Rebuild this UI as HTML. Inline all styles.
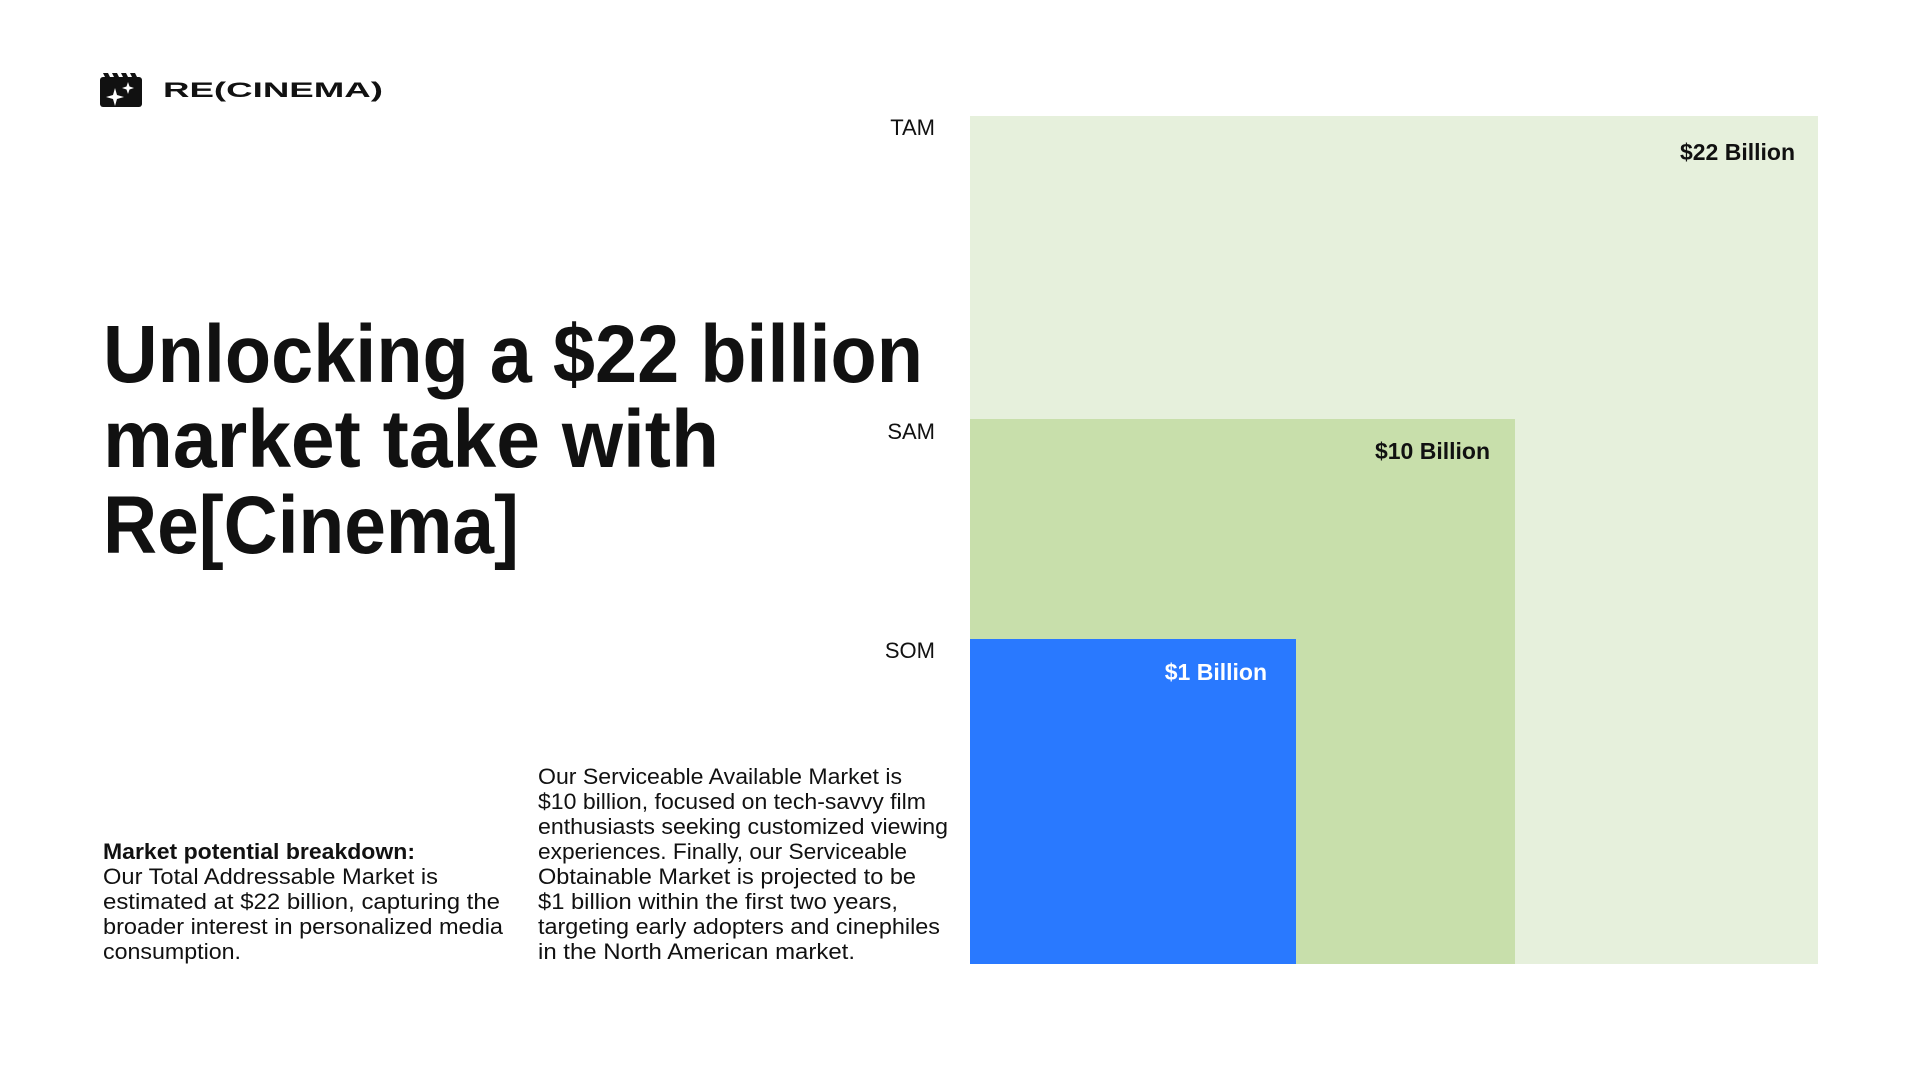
<!DOCTYPE html>
<html><head><meta charset="utf-8"><style>
html,body{margin:0;padding:0;background:#fff;}
svg{display:block;}
text{font-family:"Liberation Sans",sans-serif;fill:#111;}
</style></head><body>
<svg width="1920" height="1080" viewBox="0 0 1920 1080" xmlns="http://www.w3.org/2000/svg">
<rect width="1920" height="1080" fill="#fff"/>
<!-- logo -->
<rect x="100" y="77" width="42" height="30" rx="3" fill="#111"/>
<polygon points="103,73 108,73 111,79 106,79" fill="#111"/>
<polygon points="112,73 117,73 120,79 115,79" fill="#111"/>
<polygon points="121,73 126,73 129,79 124,79" fill="#111"/>
<polygon points="130,73 135,73 138,79 133,79" fill="#111"/>
<path d="M115,88 L117,95 L124,97 L117,99 L115,106 L113,99 L106,97 L113,95 Z" fill="#fff"/>
<path d="M128,82 L129.5,86.5 L134,88 L129.5,89.5 L128,94 L126.5,89.5 L122,88 L126.5,86.5 Z" fill="#fff"/>
<text x="163" y="97" font-size="21" font-weight="900" textLength="220" lengthAdjust="spacingAndGlyphs">RE(CINEMA)</text>
<!-- title -->
<text x="103" y="382" font-size="82" font-weight="700" textLength="820" lengthAdjust="spacingAndGlyphs">Unlocking a $22 billion</text>
<text x="103" y="467" font-size="82" font-weight="700" textLength="616" lengthAdjust="spacingAndGlyphs">market take with</text>
<text x="103" y="553" font-size="82" font-weight="700" textLength="416" lengthAdjust="spacingAndGlyphs">Re[Cinema]</text>
<!-- left text -->
<g font-size="22">
<text x="103" y="859" font-weight="700" textLength="312" lengthAdjust="spacingAndGlyphs">Market potential breakdown:</text>
<text x="103" y="884" textLength="335" lengthAdjust="spacingAndGlyphs">Our Total Addressable Market is</text>
<text x="103" y="909" textLength="397" lengthAdjust="spacingAndGlyphs">estimated at $22 billion, capturing the</text>
<text x="103" y="934" textLength="400" lengthAdjust="spacingAndGlyphs">broader interest in personalized media</text>
<text x="103" y="959" textLength="138" lengthAdjust="spacingAndGlyphs">consumption.</text>
<text x="538" y="784" textLength="364" lengthAdjust="spacingAndGlyphs">Our Serviceable Available Market is</text>
<text x="538" y="809" textLength="388" lengthAdjust="spacingAndGlyphs">$10 billion, focused on tech-savvy film</text>
<text x="538" y="834" textLength="410" lengthAdjust="spacingAndGlyphs">enthusiasts seeking customized viewing</text>
<text x="538" y="859" textLength="369" lengthAdjust="spacingAndGlyphs">experiences. Finally, our Serviceable</text>
<text x="538" y="884" textLength="378" lengthAdjust="spacingAndGlyphs">Obtainable Market is projected to be</text>
<text x="538" y="909" textLength="360" lengthAdjust="spacingAndGlyphs">$1 billion within the first two years,</text>
<text x="538" y="934" textLength="402" lengthAdjust="spacingAndGlyphs">targeting early adopters and cinephiles</text>
<text x="538" y="959" textLength="317" lengthAdjust="spacingAndGlyphs">in the North American market.</text>
</g>
<!-- chart -->
<rect x="970" y="116" width="848" height="848" fill="#e6f0dc"/>
<rect x="970" y="419" width="545" height="545" fill="#c8dfab"/>
<rect x="970" y="639" width="326" height="325" fill="#2979ff"/>
<g font-size="22" text-anchor="end">
<text x="935" y="135">TAM</text>
<text x="935" y="439">SAM</text>
<text x="935" y="658">SOM</text>
</g>
<g font-size="23" font-weight="700" text-anchor="end">
<text x="1795" y="160">$22 Billion</text>
<text x="1490" y="459">$10 Billion</text>
<text x="1267" y="680" style="fill:#fff">$1 Billion</text>
</g>
</svg>
</body></html>
